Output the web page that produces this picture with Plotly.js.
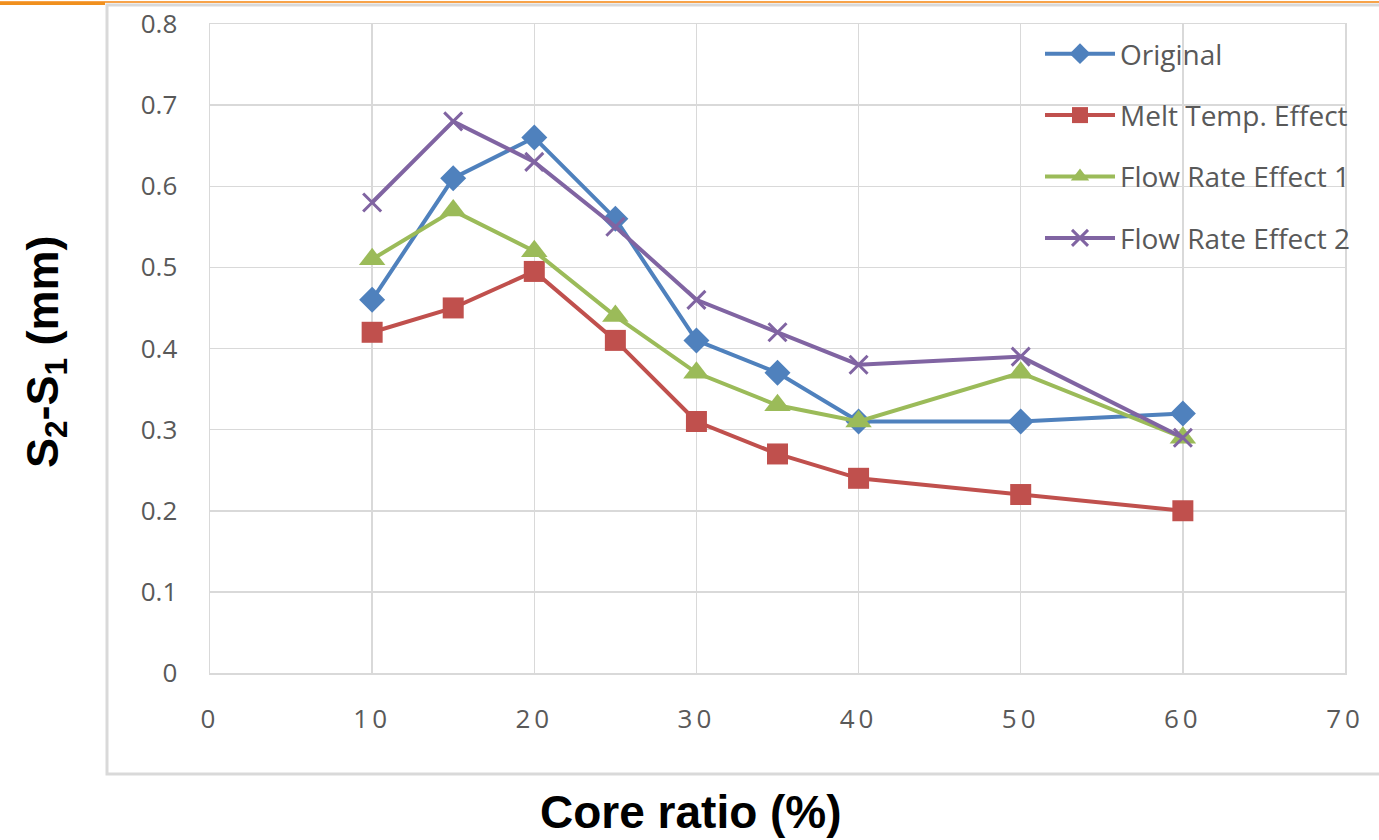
<!DOCTYPE html>
<html>
<head>
<meta charset="utf-8">
<script src="https://cdn.plot.ly/plotly-3.0.1.min.js"></script>
<style>
  html, body { margin: 0; padding: 0; background: #ffffff; }
  #chart { width: 1379px; height: 840px; }
  .xtick text { letter-spacing: 4px; }
</style>
</head>
<body>
<div id="chart"></div>
<script>
// Core ratio (%) on the x axis
const coreRatio = [10, 15, 20, 25, 30, 35, 40, 50, 60];

// S2-S1 gap (mm) for each case
const original       = [0.46, 0.61, 0.66, 0.56, 0.41, 0.37, 0.31, 0.31, 0.32];
const meltTempEffect = [0.42, 0.45, 0.495, 0.41, 0.31, 0.27, 0.24, 0.22, 0.20];
const flowRateEffect1 = [0.51, 0.57, 0.52, 0.44, 0.37, 0.33, 0.31, 0.37, 0.29];
const flowRateEffect2 = [0.58, 0.68, 0.63, 0.55, 0.46, 0.42, 0.38, 0.39, 0.29];

const seriesNames = ['Original', 'Melt Temp. Effect', 'Flow Rate Effect 1', 'Flow Rate Effect 2'];

const xTicks = [0, 10, 20, 30, 40, 50, 60, 70];
const yTicks = [0, 0.1, 0.2, 0.3, 0.4, 0.5, 0.6, 0.7, 0.8];
const yTickText = ['0', '0.1', '0.2', '0.3', '0.4', '0.5', '0.6', '0.7', '0.8'];

const styles = [
  { color: '#4F81BD', symbol: 'diamond', size: 20 },
  { color: '#C0504D', symbol: 'square', size: 21 },
  { color: '#9BBB59', symbol: 'triangle-up', size: 23 },
  { color: '#8064A2', symbol: 'x-thin-open', size: 18 }
];

const allSeries = [original, meltTempEffect, flowRateEffect1, flowRateEffect2];

const traces = allSeries.map((vals, i) => {
  const s = styles[i];
  const marker = { symbol: s.symbol, size: s.size, color: s.color };
  if (s.symbol === 'x-thin-open') {
    marker.line = { color: s.color, width: 3 };
  }
  return {
    type: 'scatter',
    mode: 'lines+markers',
    name: seriesNames[i],
    legendgroup: 'g' + i,
    x: coreRatio,
    y: vals,
    line: { color: s.color, width: 4 },
    marker: marker
  };
});

// plot-area pixel box used to place the frame decorations in paper units
const L = 210, R = 1345, T = 24, B = 673;
const px = v => (v - L) / (R - L);
const py = v => (B - v) / (B - T);

const gridColor = '#d9d9d9';
const tickFont = { family: 'Open Sans, Liberation Sans, sans-serif', size: 26, color: '#595959' };

const layout = {
  width: 1379,
  height: 840,
  margin: { l: L, r: 1379 - R, t: T, b: 840 - B },
  paper_bgcolor: '#ffffff',
  plot_bgcolor: '#ffffff',
  showlegend: true,
  legend: {
    x: px(1040), y: py(29), xanchor: 'left', yanchor: 'top',
    bgcolor: 'rgba(0,0,0,0)',
    font: { family: 'Open Sans, Liberation Sans, sans-serif', size: 28, color: '#595959' },
    itemwidth: 70,
    tracegroupgap: 22,
    traceorder: 'grouped'
  },
  xaxis: {
    range: [0, 70],
    tickvals: xTicks,
    showgrid: true, gridcolor: gridColor, gridwidth: 1.5,
    zeroline: false,
    showline: true, linecolor: gridColor, linewidth: 1.5, mirror: true,
    ticks: '', ticklabelstandoff: 22,
    tickfont: tickFont
  },
  yaxis: {
    range: [0, 0.8],
    tickvals: yTicks, ticktext: yTickText,
    showgrid: true, gridcolor: gridColor, gridwidth: 1.5,
    zeroline: false,
    showline: true, linecolor: gridColor, linewidth: 1.5, mirror: true,
    ticks: '', ticklabelstandoff: 26,
    tickfont: tickFont
  },
  shapes: [
    // outer chart frame
    { type: 'rect', xref: 'paper', yref: 'paper',
      x0: px(107), x1: px(1390), y0: py(774), y1: py(5),
      line: { color: '#d9d9d9', width: 3 }, fillcolor: 'rgba(0,0,0,0)', layer: 'below' },
    // orange rule along the top edge
    { type: 'line', xref: 'paper', yref: 'paper',
      x0: px(0), x1: px(1379), y0: py(2), y1: py(2),
      line: { color: '#F7A34A', width: 2 } },
    { type: 'line', xref: 'paper', yref: 'paper',
      x0: px(0), x1: px(105), y0: py(3.5), y1: py(3.5),
      line: { color: '#F0901E', width: 3 } }
  ],
  annotations: [
    { text: 'Core ratio (%)', xref: 'paper', yref: 'paper',
      x: px(691), y: py(812), xanchor: 'center', yanchor: 'middle', showarrow: false,
      font: { family: 'Liberation Sans, Arial, sans-serif', size: 46, color: '#000000', weight: 'bold' } },
    { text: 'S<sub>2</sub>-S<sub>1</sub> (mm)', xref: 'paper', yref: 'paper',
      x: px(45), y: py(352), xanchor: 'center', yanchor: 'middle', showarrow: false, textangle: -90,
      font: { family: 'Liberation Sans, Arial, sans-serif', size: 45, color: '#000000', weight: 'bold' } }
  ]
};

Plotly.newPlot('chart', traces, layout, { displayModeBar: false, staticPlot: true });
</script>
</body>
</html>
